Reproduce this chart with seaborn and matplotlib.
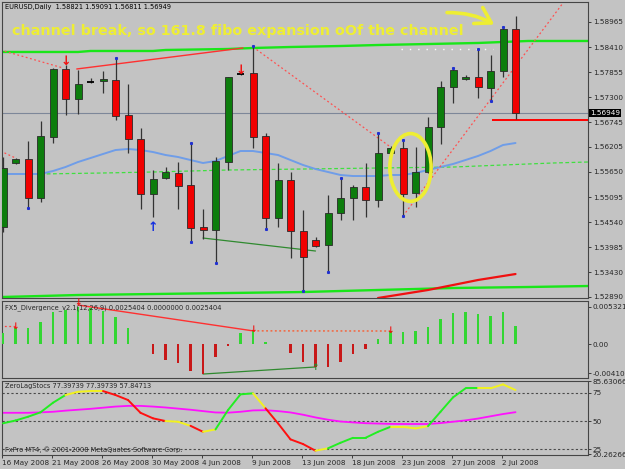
import matplotlib
matplotlib.use('Agg')
import matplotlib.pyplot as plt
import matplotlib.transforms as mtransforms
from matplotlib.patches import Ellipse
import numpy as np
import pandas as pd
import seaborn as sns

# EURUSD daily bars, 16 May .. 3 Jul 2008 (MT4 shows Sunday bars too)
opens = [1.54432, 1.55847, 1.55935, 1.55073, 1.56422, 1.57926, 1.57262, 1.57638, 1.57660, 1.57682,
         1.56908, 1.56378, 1.55161, 1.55515, 1.55626, 1.55360, 1.54432, 1.54365, 1.55869, 1.57815,
         1.57837, 1.56444, 1.54631, 1.55471, 1.54343, 1.54144, 1.54034, 1.54741, 1.55073, 1.55316,
         1.55029, 1.56068, 1.56179, 1.55183, 1.55648, 1.56643, 1.57528, 1.57705, 1.57749, 1.57505,
         1.57881, 1.58821]
highs = [1.55980, 1.55957, 1.56333, 1.56776, 1.57948, 1.58014, 1.57904, 1.57727, 1.57881, 1.58169,
         1.57594, 1.56621, 1.55692, 1.55758, 1.55869, 1.56289, 1.54830, 1.55980, 1.57749, 1.57837,
         1.58434, 1.56510, 1.55847, 1.55648, 1.54808, 1.54210, 1.55139, 1.55515, 1.55360, 1.55847,
         1.56510, 1.56220, 1.56356, 1.56201, 1.56864, 1.57660, 1.57948, 1.57793, 1.58368, 1.58235,
         1.58854, 1.59091]
lows = [1.54321, 1.55825, 1.54852, 1.54984, 1.56289, 1.56908, 1.56931, 1.57616, 1.57395, 1.56798,
        1.56068, 1.54830, 1.54653, 1.55493, 1.54830, 1.54100, 1.54166, 1.53636, 1.55692, 1.57793,
        1.56179, 1.54387, 1.54432, 1.53746, 1.53016, 1.53990, 1.53436, 1.54586, 1.54586, 1.54653,
        1.54874, 1.56046, 1.54675, 1.54874, 1.55626, 1.56267, 1.57174, 1.57682, 1.57284, 1.57218,
        1.57749, 1.56811]
closes = [1.55736, 1.55935, 1.55073, 1.56444, 1.57926, 1.57262, 1.57594, 1.57638, 1.57705, 1.56886,
          1.56378, 1.55161, 1.55493, 1.55648, 1.55338, 1.54410, 1.54365, 1.55891, 1.57749, 1.57815,
          1.56422, 1.54631, 1.55471, 1.54343, 1.53768, 1.54011, 1.54741, 1.55073, 1.55316, 1.55029,
          1.56068, 1.56179, 1.55161, 1.55648, 1.56643, 1.57528, 1.57904, 1.57749, 1.57528, 1.57881,
          1.58810, 1.56949]

date_bars = [0, 4, 8, 12, 16, 20, 24, 28, 32, 36, 40]
date_labels = ['16 May 2008', '21 May 2008', '26 May 2008', '30 May 2008', '4 Jun 2008', '9 Jun 2008',
               '13 Jun 2008', '18 Jun 2008', '23 Jun 2008', '27 Jun 2008', '2 Jul 2008']

# moving averages on the price chart
ma_blue = [1.55604, 1.55604, 1.55604, 1.55604, 1.55670, 1.55758, 1.55869, 1.55957, 1.56046, 1.56134,
           1.56157, 1.56134, 1.56090, 1.56024, 1.55980, 1.55913, 1.55847, 1.55891, 1.56002, 1.56112,
           1.56112, 1.56068, 1.56024, 1.55913, 1.55803, 1.55714, 1.55648, 1.55582, 1.55559, 1.55559,
           1.55559, 1.55582, 1.55582, 1.55626, 1.55692, 1.55758, 1.55825, 1.55913, 1.56002, 1.56112,
           1.56245, 1.56289]
ma_green_x = [3, 8, 12, 18, 24, 30, 36, 40, 44, 46.8]
ma_green = [1.55604, 1.55626, 1.55648, 1.55692, 1.55714, 1.55736, 1.55758, 1.55803, 1.55847, 1.55869]
ma_red_x = [30, 32, 34, 36, 38, 40, 41]
ma_red = [1.52862, 1.52950, 1.53039, 1.53149, 1.53260, 1.53348, 1.53392]

# channel lines
chan_top_x = [-0.1, 6, 7, 12, 13, 18, 20, 23, 27, 30, 34, 38, 40, 42, 46.8]
chan_top = [1.58302, 1.58302, 1.58324, 1.58324, 1.58346, 1.58368, 1.58390, 1.58412, 1.58434,
            1.58456, 1.58478, 1.58501, 1.58523, 1.58545, 1.58545]
chan_bot_x = [-0.1, 3, 6, 12, 18, 24, 30, 36, 42, 46.8]
chan_bot = [1.52884, 1.52906, 1.52928, 1.52950, 1.52972, 1.52994, 1.53039, 1.53083, 1.53105, 1.53127]

# zigzag / divergence lines on the price chart
zz_dotted = [([-0.2, 1.0], [1.56112, 1.55957]),
             ([-0.2, 4.8], [1.58346, 1.57948]),
             ([20.0, 31.0], [1.58412, 1.56201]),
             ([32.0, 44.8], [1.54675, 1.59385])]
zz_solid_x = [5.9, 19.2]
zz_solid = [1.57926, 1.58390]
div_line_x = [16, 25]
div_line = [1.54188, 1.53901]
fractal_up = [9, 15, 20, 27, 30, 32, 36, 38, 40]
fractal_dn = [2, 15, 17, 21, 24, 26, 32, 39]
main_ticks = [1.58965, 1.58410, 1.57855, 1.57300, 1.56745, 1.56205, 1.55650, 1.55095,
              1.54540, 1.53985, 1.53430, 1.52890]

# FX5 divergence histogram
fx5 = [0.00164, 0.00235, 0.00235, 0.00311, 0.00461, 0.00485, 0.00532, 0.00509, 0.00471, 0.00382,
       0.00235, 0.00010, -0.00142, -0.00222, -0.00269, -0.00378, -0.00425, -0.00175, -0.00030, 0.00156,
       0.00188, 0.00038, 0.00010, -0.00127, -0.00246, -0.00324, -0.00317, -0.00246, -0.00142, -0.00066,
       0.00075, 0.00188, 0.00170, 0.00188, 0.00249, 0.00358, 0.00439, 0.00461, 0.00429, 0.00405,
       0.00453, 0.00254]

# ZeroLag stochastic
stoch_main = [48.0, 50.5, 53.8, 57.7, 66.2, 73.0, 75.9, 76.5, 76.5, 73.0,
              68.6, 57.3, 52.4, 50.0, 49.4, 45.8, 40.5, 42.6, 59.7, 73.6,
              74.5, 61.3, 48.0, 33.8, 29.7, 23.8, 25.9, 30.8, 35.2, 35.2,
              40.5, 44.9, 44.9, 43.5, 45.5, 58.2, 70.9, 78.9, 78.9, 78.9,
              82.4, 77.4]
stoch_signal = [57.3, 57.3, 57.3, 57.7, 58.2, 59.2, 60.0, 60.8, 61.8, 62.8,
                63.4, 63.4, 62.8, 62.0, 61.0, 60.0, 58.8, 57.6, 57.4, 58.2,
                59.4, 59.6, 58.8, 57.6, 55.6, 53.2, 51.2, 49.6, 48.8, 48.1,
                47.8, 47.5, 47.4, 47.4, 47.4, 48.2, 49.4, 50.6, 52.2, 54.2,
                56.2, 57.85]
stoch_state = 'gggggyyyrrrrryyrygggyrrrrygggggyyyggggyyy'

BG = '#c3c3c3'
sns.set_theme(style='ticks', rc={'axes.facecolor': BG, 'figure.facecolor': BG,
                                 'axes.edgecolor': '#454545', 'axes.linewidth': 0.8})
plt.rcParams['font.family'] = ['DejaVu Sans']

W, H = 625, 469
fig = plt.figure(figsize=(6.25, 4.69), dpi=100)


def panel(top, bottom):
    return fig.add_axes([2 / W, 1 - bottom / H, 586 / W, (bottom - top) / H])


ax = panel(2, 298)
ax_div = panel(300.5, 377.5)
ax_sto = panel(381, 455)

df = pd.DataFrame({'open': opens, 'high': highs, 'low': lows, 'close': closes})
df['x'] = np.arange(len(df))
up = df.close > df.open
dn = df.close < df.open
flat = df.close == df.open

# ---- price panel ----
ax.axhline(closes[-1], color='#7d8799', lw=0.8, zorder=1)
sns.lineplot(x=chan_top_x, y=chan_top, ax=ax, color='#19e619', lw=1.7, zorder=2)
sns.lineplot(x=chan_bot_x, y=chan_bot, ax=ax, color='#19e619', lw=1.7, zorder=2)
sns.lineplot(x=ma_green_x, y=ma_green, ax=ax, color='#3fe03f', lw=0.9, linestyle=(0, (3, 2)), zorder=2)
sns.lineplot(x=df.x, y=ma_blue, ax=ax, color='#6f9de8', lw=1.4, zorder=2)
sns.lineplot(x=ma_red_x, y=ma_red, ax=ax, color='#f01010', lw=1.6, zorder=2)
for xs, ys in zz_dotted:
    ax.plot(xs, ys, color='#ff5050', lw=0.9, linestyle=(0, (1.5, 2)), zorder=2)
ax.plot(zz_solid_x, zz_solid, color='#ff3030', lw=1.0, zorder=2)
ax.plot(div_line_x, div_line, color='#2f8a2f', lw=0.9, zorder=2)
ax.plot([31.8, 39.2], [chan_top[7] - 0.00044] * 2, color='white', lw=1, linestyle=(0, (1, 5)), zorder=2)
ax.hlines(1.56790, 39.1, 46.8, color='#ff0000', lw=1.4, zorder=2)

ax.vlines(df.x, df.low, df.high, color='#333333', lw=0.9, zorder=3)
ax.bar(df.x[up], (df.close - df.open)[up], bottom=df.open[up], width=0.56,
       color='#0d7d0d', edgecolor='#2a2a2a', lw=0.6, zorder=4)
ax.bar(df.x[dn], (df.open - df.close)[dn], bottom=df.close[dn], width=0.56,
       color='#f00000', edgecolor='#2a2a2a', lw=0.6, zorder=4)
ax.hlines(df.close[flat], df.x[flat] - 0.3, df.x[flat] + 0.3, color='black', lw=1.3, zorder=4)
ax.plot(fractal_up, df.high[fractal_up] + 0.0001, 's', color='#2030d0', ms=1.2, zorder=5)
ax.plot(fractal_dn, df.low[fractal_dn] - 0.0001, 's', color='#2030d0', ms=1.2, zorder=5)

ax.text(5, 1.58090, '↓', color='#f01010', fontsize=9, fontweight='bold', ha='center', va='center', zorder=6)
ax.text(19, 1.57900, '↓', color='#f01010', fontsize=9, fontweight='bold', ha='center', va='center', zorder=6)
ax.text(12, 1.54410, '↑', color='#1530e0', fontsize=9, fontweight='bold', ha='center', va='center', zorder=6)

ax.text(0.017, 0.903, 'channel break, so 161.8 fibo expansion oOf the channel', transform=ax.transAxes,
        color='#eeee33', fontsize=10.3, fontweight='bold', va='center', ha='left', zorder=7)
ax.annotate('', xy=(39.5, 1.58877), xytext=(35.3, 1.59171),
            arrowprops=dict(arrowstyle='->,head_length=0.9,head_width=0.55', color='#eeee33', lw=2.6,
                            connectionstyle='arc3,rad=-0.15'), zorder=7)
ax.add_patch(Ellipse((32.6, 1.55748), 3.3, 0.0150, fill=False, ec='#eeee33', lw=2.6, zorder=7))
ax.text(0.005, 0.993, 'EURUSD,Daily  1.58821 1.59091 1.56811 1.56949', transform=ax.transAxes,
        fontsize=4.8, va='top', ha='left', color='black')

ax.set_ylim(1.52862, 1.59407)
ax.set_yticks(main_ticks)
ax.set_yticklabels([f'{t:.5f}' for t in main_ticks])
tr = mtransforms.blended_transform_factory(ax.transAxes, ax.transData)
ax.text(1.003, closes[-1], f'{closes[-1]:.5f}', transform=tr, fontsize=5.2, color='white', va='center',
        ha='left', bbox=dict(fc='black', ec='none', pad=0.8))

# ---- divergence panel ----
cols = ['#33d633' if v > 0 else '#c81818' for v in fx5]
ax_div.bar(df.x, fx5, width=0.17, color=cols, edgecolor='none', lw=0, zorder=3)
ax_div.plot([-0.2, 1], [0.00259, 0.00259], color='#ff4040', lw=0.9, linestyle=(0, (1.5, 2)))
ax_div.plot([6, 20], [0.00556, 0.00190], color='#ff3030', lw=1.0)
ax_div.plot([20, 31], [0.00190, 0.00188], color='#ff5020', lw=0.9, linestyle=(0, (1.5, 2)))
ax_div.plot([16, 25], [-0.00421, -0.00321], color='#2f8a2f', lw=0.9)
for xb, yb in [(1, 0.00259), (6, 0.00590), (20, 0.00205), (31, 0.00195)]:
    ax_div.text(xb, yb, '↓', color='#f01010', fontsize=6.5, fontweight='bold', ha='center', va='center')
ax_div.text(25, -0.00330, '↑', color='#2f8a2f', fontsize=6.5, fontweight='bold', ha='center', va='center')
ax_div.text(0.005, 0.95, 'FX5_Divergence_v2.1(12,26,9) 0.0025404 0.0000000 0.0025404',
            transform=ax_div.transAxes, fontsize=4.8, va='top', ha='left')
ax_div.set_ylim(-0.0047, 0.0062)
ax_div.set_yticks([0.005321, 0.0, -0.0041])
ax_div.set_yticklabels(['0.005321', '0.00', '-0.00410'])

# ---- stochastic panel ----
for lvl in (75, 50, 25):
    ax_sto.axhline(lvl, color='#4a4a4a', lw=0.8, linestyle=(0, (2, 2)), zorder=1)
sns.lineplot(x=df.x, y=stoch_signal, ax=ax_sto, color='#ff10ff', lw=1.3, zorder=2)
scol = {'g': '#22ee22', 'y': '#f2f21e', 'r': '#ff1010'}
for k, s in enumerate(stoch_state):
    ax_sto.plot([k, k + 1], stoch_main[k:k + 2], color=scol[s], lw=1.4, solid_capstyle='round', zorder=3)
ax_sto.text(0.005, 0.97, 'ZeroLagStocs 77.39739 77.39739 57.84713', transform=ax_sto.transAxes,
            fontsize=4.8, va='top', ha='left')
ax_sto.text(0.005, 0.03, 'FxPro MT4, © 2001-2008 MetaQuotes Software Corp.', transform=ax_sto.transAxes,
            fontsize=4.8, va='bottom', ha='left')
ax_sto.set_ylim(20.0, 85.4)
ax_sto.set_yticks([85.0, 75, 50, 25, 20.8])
ax_sto.set_yticklabels(['85.63066', '75', '50', '25', '20.26266'])
ax_sto.set_xticks([b - 0.05 for b in date_bars])
ax_sto.set_xticklabels(date_labels, ha='left')
ax_sto.tick_params(axis='x', length=2, width=0.6, pad=1.5, labelsize=5.2)

for a in (ax, ax_div, ax_sto):
    a.set_xlim(-0.08, 46.8)
    a.set_xlabel('')
    a.set_ylabel('')
    a.yaxis.tick_right()
    a.tick_params(axis='y', length=2, width=0.6, pad=1.5, labelsize=5.2, direction='out')
    for sp in a.spines.values():
        sp.set_visible(True)
for a in (ax, ax_div):
    a.tick_params(axis='x', bottom=False, labelbottom=False)

fig.savefig('out.png', dpi=100, facecolor=BG)
